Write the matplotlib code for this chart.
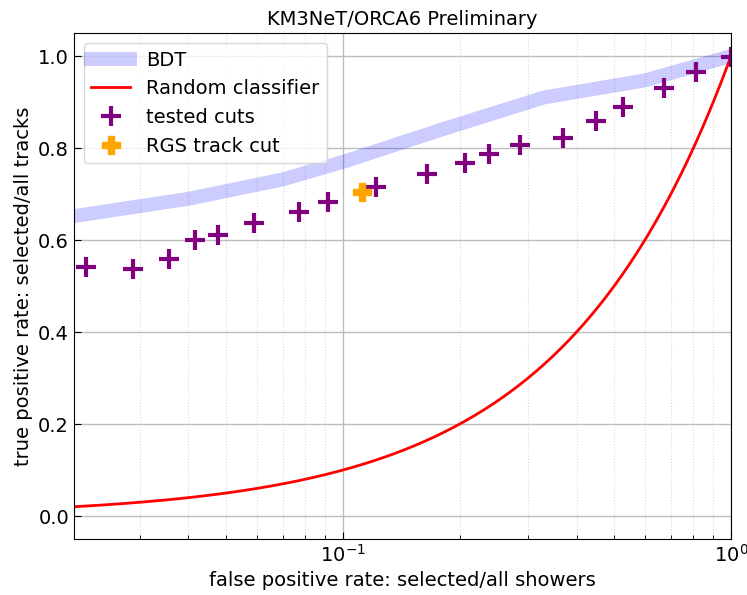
import numpy as np
import matplotlib
matplotlib.use("Agg")
from matplotlib import pyplot as plt

# BDT ROC curve (false positive rate, true positive rate)
bdt_fpr = [0.0203, 0.0403, 0.0702, 0.102, 0.178, 0.33, 0.6, 1.0]
bdt_tpr = [0.652, 0.690, 0.732, 0.772, 0.839, 0.910, 0.947, 1.0]

# rectangular cuts that were tested
cut_fpr = [0.0218, 0.0288, 0.0356, 0.0417, 0.0476, 0.0589, 0.0773, 0.0916,
           0.1216, 0.165, 0.2066, 0.2375, 0.2866, 0.369, 0.448, 0.528,
           0.673, 0.814, 1.0]
cut_tpr = [0.542, 0.538, 0.558, 0.601, 0.612, 0.638, 0.660, 0.682,
           0.716, 0.743, 0.768, 0.787, 0.807, 0.821, 0.858, 0.890,
           0.930, 0.965, 0.998]

# chosen RGS track cut
rgs_fpr = [0.112]
rgs_tpr = [0.705]

fig = plt.figure(figsize=(7.47, 5.95), dpi=100)
ax = fig.add_axes([0.099, 0.094, 0.8796, 0.8505])

ax.plot(bdt_fpr, bdt_tpr, color='blue', alpha=0.2, lw=10, label='BDT')
xr = np.logspace(np.log10(0.0203), 0, 200)
ax.plot(xr, xr, color='red', lw=2, label='Random classifier')
ax.plot(cut_fpr, cut_tpr, ls='none', marker='+', ms=15, mew=3,
        color='purple', label='tested cuts')
ax.plot(rgs_fpr, rgs_tpr, ls='none', marker='P', ms=13,
        color='orange', label='RGS track cut')

ax.set_xscale('log')
ax.set_xlim(0.0203, 1.0)
ax.set_ylim(-0.05, 1.05)
ax.grid(which='major', color='#bdbdbd', lw=1)
ax.grid(which='minor', axis='x', color='#dadada', ls=':', lw=0.8)
ax.tick_params(which='both', direction='in', labelsize=14)
ax.tick_params(which='major', length=5)
ax.tick_params(which='minor', length=3)

ax.set_xlabel('false positive rate: selected/all showers', fontsize=14)
ax.set_ylabel('true positive rate: selected/all tracks', fontsize=14)
ax.set_title('KM3NeT/ORCA6 Preliminary', fontsize=14)
ax.legend(loc='upper left', fontsize=14)

plt.savefig("out.png")
